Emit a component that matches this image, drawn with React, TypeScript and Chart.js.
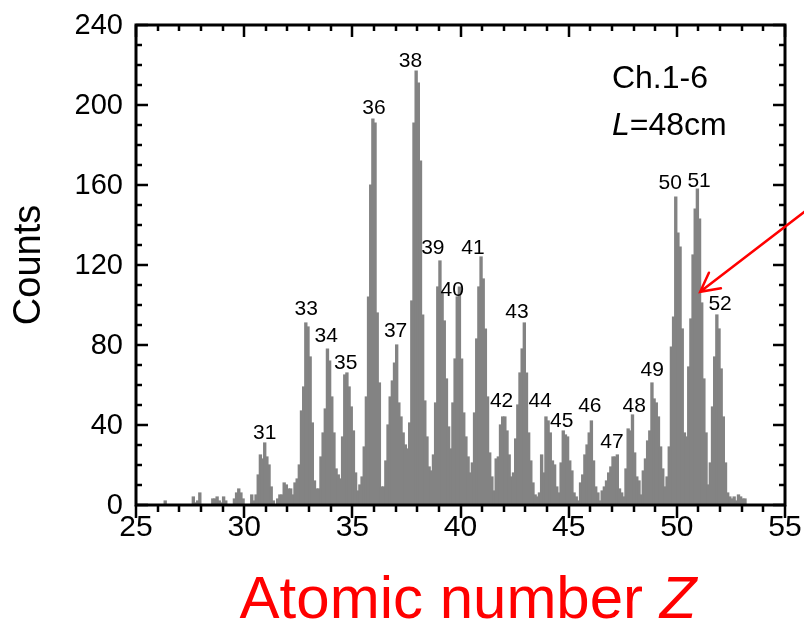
import React, { useEffect, useRef } from 'react';
import { Chart, registerables } from 'chart.js';

Chart.register(...registerables);

const FONT = "'Liberation Sans', Arial, Helvetica, sans-serif";

// Histogram: counts per 0.1-wide bin of atomic number Z (bins start at Z, Z+0.1, ...)
const BIN_WIDTH = 0.1;
const countsZ25to29 = [
  0, 0, 0, 0, 0, 0, 0, 0, 0, 0,
  0, 0, 0, 2, 0, 0, 0, 0, 0, 0,
  0, 0, 0, 0, 0, 0, 4, 1, 2, 6,
  0, 0, 0, 0, 0, 3, 3, 4, 2, 1,
  4, 2, 0, 0, 0, 3, 6, 8, 6, 3,
];
const countsZ30to34 = [
  0, 0, 0, 5, 2, 5, 15, 25, 23, 31,
  24, 20, 9, 2, 0, 3, 5, 5, 11, 10,
  8, 8, 5, 11, 13, 20, 47, 59, 91, 89,
  74, 41, 12, 8, 8, 24, 36, 48, 78, 72,
  54, 36, 18, 15, 13, 34, 65, 66, 59, 49,
];
const countsZ35to39 = [
  37, 16, 7, 10, 14, 29, 54, 104, 160, 193,
  191, 96, 61, 9, 9, 22, 40, 54, 62, 71,
  80, 51, 44, 36, 30, 28, 41, 102, 191, 217,
  211, 172, 95, 52, 34, 19, 17, 25, 51, 109,
  122, 106, 92, 63, 39, 28, 51, 73, 104, 109,
];
const countsZ40to44 = [
  73, 46, 34, 24, 16, 21, 46, 83, 109, 124,
  113, 88, 54, 26, 14, 7, 23, 24, 40, 44,
  44, 37, 25, 14, 16, 33, 50, 66, 78, 91,
  66, 36, 22, 11, 5, 4, 6, 25, 16, 44,
  42, 36, 22, 20, 9, 6, 21, 37, 35, 34,
];
const countsZ45to49 = [
  22, 17, 6, 4, 2, 11, 15, 25, 30, 36,
  42, 22, 9, 6, 2, 7, 9, 12, 16, 19,
  24, 24, 25, 8, 6, 4, 18, 38, 37, 45,
  26, 14, 12, 5, 17, 23, 32, 37, 61, 53,
  51, 44, 29, 18, 9, 14, 29, 79, 94, 154,
];
const countsZ50to54 = [
  136, 129, 88, 36, 34, 69, 93, 125, 148, 158,
  143, 101, 63, 36, 10, 21, 49, 74, 95, 88,
  68, 44, 21, 6, 4, 3, 4, 2, 5, 4,
  3, 3, 0, 0, 0, 0, 0, 0, 0, 0,
  0, 0, 0, 0, 0, 0, 0, 0, 0, 0,
];
const blockStartZ = [25, 30, 35, 40, 45, 50];
const countBlocks = [countsZ25to29, countsZ30to34, countsZ35to39, countsZ40to44, countsZ45to49, countsZ50to54];

// Axes
const xTickValues = [25, 30, 35, 40, 45, 50, 55];
const yTickValues = [0, 40, 80, 120, 160, 200, 240];
const X_MINOR_STEP = 1;
const Y_MINOR_STEP = 10;

// Peak labels (text, and their position in data units: Z, counts)
const peakLabels = ['31', '33', '34', '35', '36', '37', '38', '39', '40', '41', '42', '43', '44', '45', '46', '47', '48', '49', '50', '51', '52'];
const peakLabelZ = [30.95, 32.87, 33.79, 34.69, 36.0, 37.0, 37.69, 38.72, 39.62, 40.58, 41.9, 42.61, 43.68, 44.68, 45.98, 47.0, 48.03, 48.86, 49.69, 51.03, 52.0];
const peakLabelCounts = [36, 98, 84.5, 71, 198.5, 87, 221.75, 128.5, 107.5, 128.5, 51.75, 96.5, 51.75, 41.75, 49.5, 31.25, 49.5, 67.5, 160.85, 162, 100.5];

// Info text and arrow (data units)
const infoZ = 47.0;
const infoChannelCounts = 213;
const infoLengthCounts = 189.5;
const arrowTip = { z: 51.08, c: 106.6 };
const arrowTail = { z: 55.9, c: 146.6 };

function buildPoints() {
  const pts: { x: number; y: number }[] = [];
  countBlocks.forEach((block, b) => {
    block.forEach((v, i) => {
      const x = +(blockStartZ[b] + (i + 0.5) * BIN_WIDTH).toFixed(3);
      pts.push({ x, y: v });
    });
  });
  return pts;
}

const decorPlugin = {
  id: 'decor',
  afterDraw(chart: any) {
    const { ctx, chartArea: a, scales } = chart;
    const xs = scales.x;
    const ys = scales.y;
    ctx.save();

    // tick marks
    ctx.strokeStyle = '#000';
    ctx.lineWidth = 2.5;
    ctx.beginPath();
    for (let z = xTickValues[0]; z <= xTickValues[xTickValues.length - 1] + 1e-6; z += X_MINOR_STEP) {
      const px = Math.round(xs.getPixelForValue(z));
      const major = xTickValues.includes(z);
      const lenOut = major ? 13 : 7;
      const lenIn = major ? 12 : 6;
      ctx.moveTo(px, a.bottom);
      ctx.lineTo(px, a.bottom + lenOut);
      ctx.moveTo(px, a.top);
      ctx.lineTo(px, a.top + lenIn);
    }
    for (let c = yTickValues[0]; c <= yTickValues[yTickValues.length - 1] + 1e-6; c += Y_MINOR_STEP) {
      const py = Math.round(ys.getPixelForValue(c));
      const major = yTickValues.includes(c);
      const len = major ? 12 : 6;
      ctx.moveTo(a.left, py);
      ctx.lineTo(a.left + len, py);
      ctx.moveTo(a.right, py);
      ctx.lineTo(a.right - len, py);
    }
    ctx.stroke();

    // frame
    ctx.lineWidth = 3;
    ctx.strokeRect(a.left, a.top, a.right - a.left, a.bottom - a.top);

    // tick labels
    ctx.fillStyle = '#000';
    ctx.font = `30px ${FONT}`;
    ctx.textAlign = 'center';
    ctx.textBaseline = 'middle';
    xTickValues.forEach((v) => ctx.fillText(String(v), xs.getPixelForValue(v), a.bottom + 23));
    ctx.textAlign = 'right';
    ctx.font = `29px ${FONT}`;
    yTickValues.forEach((v) => ctx.fillText(String(v), a.left - 13, ys.getPixelForValue(v) + 1));

    // peak labels
    ctx.font = `21px ${FONT}`;
    ctx.textAlign = 'center';
    peakLabels.forEach((t, i) => {
      ctx.fillText(t, xs.getPixelForValue(peakLabelZ[i]), ys.getPixelForValue(peakLabelCounts[i]));
    });

    // info text
    ctx.textAlign = 'left';
    ctx.font = `32px ${FONT}`;
    const ix = xs.getPixelForValue(infoZ);
    ctx.fillText('Ch.1-6', ix, ys.getPixelForValue(infoChannelCounts));
    const ly = ys.getPixelForValue(infoLengthCounts);
    ctx.font = `italic 32px ${FONT}`;
    ctx.fillText('L', ix, ly);
    const lw = ctx.measureText('L').width;
    ctx.font = `32px ${FONT}`;
    ctx.fillText('=48cm', ix + lw, ly);

    // x-axis title
    ctx.fillStyle = '#ff0000';
    ctx.textBaseline = 'alphabetic';
    ctx.font = `60px ${FONT}`;
    const t1 = 'Atomic number ';
    const w1 = ctx.measureText(t1).width;
    ctx.font = `italic 60px ${FONT}`;
    const w2 = ctx.measureText('Z').width;
    const cx = 468;
    const startX = cx - (w1 + w2) / 2;
    ctx.font = `60px ${FONT}`;
    ctx.fillText(t1, startX, 618);
    ctx.font = `italic 60px ${FONT}`;
    ctx.fillText('Z', startX + w1, 618);

    // arrow
    const tx = xs.getPixelForValue(arrowTip.z);
    const ty = ys.getPixelForValue(arrowTip.c);
    const sx = xs.getPixelForValue(arrowTail.z);
    const sy = ys.getPixelForValue(arrowTail.c);
    const ang = Math.atan2(sy - ty, sx - tx);
    const head = 21;
    const spread = (28 * Math.PI) / 180;
    ctx.strokeStyle = '#ff0000';
    ctx.lineWidth = 2.5;
    ctx.lineCap = 'round';
    ctx.beginPath();
    ctx.moveTo(sx, sy);
    ctx.lineTo(tx, ty);
    ctx.moveTo(tx + head * Math.cos(ang - spread), ty + head * Math.sin(ang - spread));
    ctx.lineTo(tx, ty);
    ctx.lineTo(tx + head * Math.cos(ang + spread), ty + head * Math.sin(ang + spread));
    ctx.stroke();

    ctx.restore();
  },
};

export default function App() {
  const ref = useRef<HTMLCanvasElement | null>(null);
  useEffect(() => {
    if (!ref.current) return;
    const chart = new Chart(ref.current, {
      type: 'bar',
      data: {
        datasets: [
          {
            data: buildPoints(),
            backgroundColor: '#838383',
            borderWidth: 0,
            barPercentage: 1,
            categoryPercentage: 1,
            inflateAmount: 0.6,
          },
        ],
      },
      options: {
        animation: false,
        responsive: false,
        devicePixelRatio: 1,
        layout: { padding: { top: 25, right: 19, left: 0, bottom: 0 } },
        plugins: { legend: { display: false }, tooltip: { enabled: false } },
        scales: {
          x: {
            type: 'linear',
            min: 25,
            max: 55,
            offset: false,
            grid: { display: false, drawTicks: false },
            border: { display: false },
            ticks: { display: false, padding: 0 },
            afterBuildTicks: (s: any) => {
              s.ticks = xTickValues.map((v) => ({ value: v }));
            },
            afterFit: (s: any) => {
              s.height = 121;
            },
          },
          y: {
            type: 'linear',
            min: 0,
            max: 240,
            grid: { display: false, drawTicks: false },
            border: { display: false },
            ticks: { display: false, padding: 0 },
            afterBuildTicks: (s: any) => {
              s.ticks = yTickValues.map((v) => ({ value: v }));
            },
            afterFit: (s: any) => {
              s.width = 136;
            },
            title: {
              display: true,
              text: 'Counts',
              font: { family: FONT, size: 38 },
              color: '#000',
              padding: { top: 7, bottom: 0 },
            },
          },
        },
      },
      plugins: [decorPlugin],
    } as any);
    return () => chart.destroy();
  }, []);

  return (
    <div style={{ position: 'absolute', left: 0, top: 0, width: 804, height: 626, background: '#fff' }}>
      <canvas ref={ref} width={804} height={626} />
    </div>
  );
}
